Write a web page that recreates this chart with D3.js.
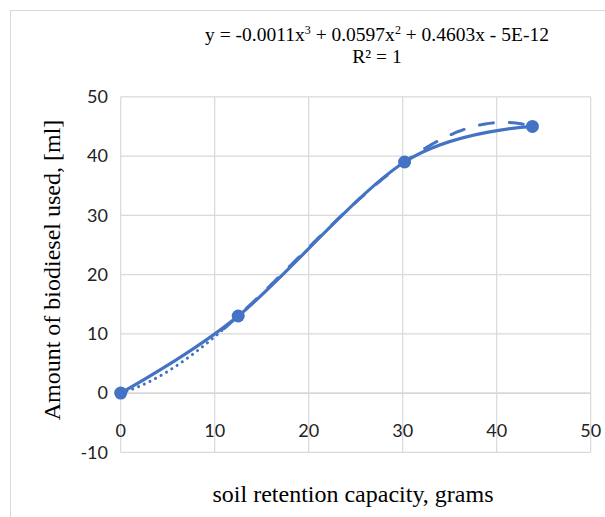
<!DOCTYPE html>
<html><head><meta charset="utf-8">
<script src="https://cdn.jsdelivr.net/npm/d3@7/dist/d3.min.js"></script>
<style>body{margin:0;background:#fff}svg{display:block}</style>
</head><body>
<script>
const xValues = [0, 12.5, 30.2, 43.8];
const yValues = [0, 13, 39, 45];
const xTicks = [0, 10, 20, 30, 40, 50];
const yTicks = [-10, 0, 10, 20, 30, 40, 50];
const equationText = ["y = -0.0011x", "3", " + 0.0597x", "2", " + 0.4603x - 5E-12"];
const r2Text = "R² = 1";
const xTitle = "soil retention capacity, grams";
const yTitle = "Amount of biodiesel used, [ml]";

const W = 605, H = 517;
const svg = d3.select("body").append("svg").attr("width", W).attr("height", H);
svg.append("rect").attr("width", W).attr("height", H).attr("fill", "#fff");
svg.append("rect").attr("x", 10.5).attr("y", 10.5).attr("width", W + 20).attr("height", H + 20)
  .attr("fill", "none").attr("stroke", "#d9d9d9");

const x = d3.scaleLinear().domain([0, 50]).range([120.7, 590.7]);
const y = d3.scaleLinear().domain([-10, 50]).range([452.3, 96.8]);
const blue = "#4472C4";

// gridlines
svg.append("g").selectAll("line.h").data(yTicks).join("line")
  .attr("x1", x(0)).attr("x2", x(50)).attr("y1", d => y(d)).attr("y2", d => y(d))
  .attr("stroke", d => d === 0 ? "#c8c8c8" : "#d9d9d9").attr("stroke-width", 1.2);
svg.append("g").selectAll("line.v").data(xTicks).join("line")
  .attr("x1", d => x(d)).attr("x2", d => x(d)).attr("y1", y(-10)).attr("y2", y(50))
  .attr("stroke", "#d9d9d9").attr("stroke-width", 1.2);

// tick labels
svg.append("g").selectAll("text").data(yTicks).join("text")
  .attr("x", 108).attr("y", d => y(d)).attr("dy", "0.35em").attr("text-anchor", "end")
  .attr("font-family", "Lato, sans-serif").attr("font-size", 18).attr("fill", "#222")
  .text(d => d);
svg.append("g").selectAll("text").data(xTicks).join("text")
  .attr("x", d => x(d)).attr("y", 431).attr("dy", "0.35em").attr("text-anchor", "middle")
  .attr("font-family", "Lato, sans-serif").attr("font-size", 18).attr("fill", "#222")
  .text(d => d);

// titles
svg.append("text").attr("transform", `translate(52,270) rotate(-90)`).attr("dy", "0.35em")
  .attr("text-anchor", "middle").attr("font-family", "'Liberation Serif', serif").attr("font-size", 24)
  .text(yTitle);
svg.append("text").attr("x", 353).attr("y", 494).attr("dy", "0.35em")
  .attr("text-anchor", "middle").attr("font-family", "'Liberation Serif', serif").attr("font-size", 24)
  .text(xTitle);

// equation
const eq = svg.append("text").attr("x", 377).attr("y", 41).attr("text-anchor", "middle")
  .attr("font-family", "'Liberation Serif', serif").attr("font-size", 19.5);
equationText.forEach((t, i) => {
  const ts = eq.append("tspan").text(t);
  if (i === 1 || i === 3) ts.attr("font-size", 12).attr("dy", -7);
  else if (i > 0) ts.attr("dy", 7);
});
svg.append("text").attr("x", 377).attr("y", 63).attr("text-anchor", "middle")
  .attr("font-family", "'Liberation Serif', serif").attr("font-size", 19.5).text(r2Text);

// cubic trendline (least-squares polynomial fit, order 3)
function polyfit(xs, ys, n) {
  const m = n + 1;
  const A = Array.from({length: m}, () => new Array(m + 1).fill(0));
  for (let r = 0; r < m; r++) {
    for (let c = 0; c < m; c++) A[r][c] = d3.sum(xs, v => Math.pow(v, r + c));
    A[r][m] = d3.sum(xs.map((v, i) => ys[i] * Math.pow(v, r)));
  }
  for (let i = 0; i < m; i++) {
    let p = i;
    for (let k = i + 1; k < m; k++) if (Math.abs(A[k][i]) > Math.abs(A[p][i])) p = k;
    [A[i], A[p]] = [A[p], A[i]];
    for (let k = 0; k < m; k++) if (k !== i) {
      const f = A[k][i] / A[i][i];
      for (let c = i; c <= m; c++) A[k][c] -= f * A[i][c];
    }
  }
  return A.map((row, i) => row[m] / row[i]);
}
const coef = polyfit(xValues, yValues, 3);
const poly = v => coef.reduce((s, c, i) => s + c * Math.pow(v, i), 0);
const xmax = d3.max(xValues);
const samples = d3.range(0, xmax + 0.001, 0.2).map(v => [v, poly(v)]);
const lineGen = d3.line().x(d => x(d[0])).y(d => y(d[1]));
const split = 11;
svg.append("path").attr("d", lineGen(samples.filter(d => d[0] <= split)))
  .attr("fill", "none").attr("stroke", blue).attr("stroke-width", 3)
  .attr("stroke-linecap", "round").attr("stroke-dasharray", "0.1,6.2");
svg.append("path").attr("d", lineGen(samples.filter(d => d[0] >= split)))
  .attr("fill", "none").attr("stroke", blue).attr("stroke-width", 3)
  .attr("stroke-linecap", "round").attr("stroke-dasharray", "14,16");

// smoothed series line
const pts = xValues.map((v, i) => [v, yValues[i]]);
svg.append("path").attr("d", d3.line().x(d => x(d[0])).y(d => y(d[1])).curve(d3.curveCardinal.tension(0))(pts))
  .attr("fill", "none").attr("stroke", blue).attr("stroke-width", 3.2).attr("stroke-linecap", "round");

// markers
svg.append("g").selectAll("circle").data(pts).join("circle")
  .attr("cx", d => x(d[0])).attr("cy", d => y(d[1])).attr("r", 6.5).attr("fill", blue);
</script>
</body></html>
